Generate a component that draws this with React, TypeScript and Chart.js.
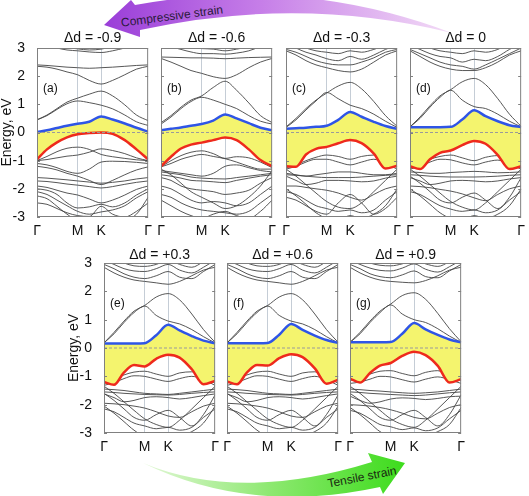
import React, { useEffect, useRef } from 'react';
import { Chart, registerables } from 'chart.js';
Chart.register(...registerables);

// ---- axes -------------------------------------------------------------
const K_POS = [0, 0.09, 0.18, 0.27, 0.366, 0.47, 0.577, 0.68, 0.79, 0.895, 1.0];
const K_TICKS = [0, 0.366, 0.577, 1];
const K_LABELS = ['Γ', 'M', 'K', 'Γ'];
const Y_TICKS = [-3, -2, -1, 0, 1, 2, 3];

// ---- panel (a) Δd = -0.9 ---------------------------------------------
const A_CB = [0.01, 0.08, 0.16, 0.24, 0.31, 0.38, 0.57, 0.46, 0.32, 0.17, 0.03];
const A_VB = [-0.95, -0.6, -0.35, -0.17, -0.06, -0.02, 0.0, -0.05, -0.27, -0.6, -0.95];
const A_UP = [
  [0.45, 0.62, 0.85, 1.08, 1.22, 1.36, 1.47, 1.3, 0.98, 0.62, 0.42],
  [0.45, 0.6, 0.82, 1.02, 1.12, 1.06, 0.97, 0.84, 0.62, 0.38, 0.25],
  [2.35, 2.32, 2.25, 2.15, 2.05, 1.85, 1.72, 1.85, 2.05, 2.25, 2.35],
  [2.4, 2.38, 2.35, 2.32, 2.3, 2.28, 2.3, 2.32, 2.35, 2.38, 2.4],
  [3.2, 3.1, 3.0, 2.93, 2.9, 2.86, 2.84, 2.9, 3.0, 3.1, 3.2],
  [3.3, 3.2, 3.1, 3.02, 2.97, 2.93, 2.96, 3.05, 3.15, 3.25, 3.3],
];
const A_DOWN = [
  [-1.0, -0.85, -0.68, -0.56, -0.52, -0.6, -0.78, -0.86, -0.92, -0.97, -1.0],
  [-1.0, -0.96, -0.9, -0.84, -0.8, -0.7, -0.58, -0.64, -0.75, -0.9, -1.0],
  [-1.1, -1.15, -1.25, -1.38, -1.45, -1.3, -1.05, -1.02, -1.03, -1.06, -1.1],
  [-1.2, -1.25, -1.33, -1.45, -1.55, -1.7, -1.85, -1.7, -1.5, -1.33, -1.22],
  [-1.6, -1.62, -1.65, -1.68, -1.72, -1.76, -1.8, -1.77, -1.72, -1.65, -1.6],
  [-1.72, -1.74, -1.78, -1.83, -1.87, -1.92, -1.97, -1.92, -1.84, -1.77, -1.72],
  [-1.9, -1.95, -2.05, -2.15, -2.22, -2.36, -2.5, -2.4, -2.22, -2.02, -1.9],
  [-2.0, -2.05, -2.2, -2.5, -2.68, -2.64, -2.55, -2.64, -2.5, -2.22, -2.0],
  [-2.1, -2.2, -2.4, -2.6, -2.8, -2.9, -2.82, -2.75, -2.6, -2.32, -2.1],
  [-2.5, -2.55, -2.7, -2.85, -2.95, -2.98, -2.62, -2.9, -3.0, -2.8, -2.5],
  [-2.25, -2.35, -2.62, -2.9, -3.1, -3.1, -3.0, -3.1, -3.1, -2.9, -2.3],
];

// ---- panel (b) Δd = -0.6 ---------------------------------------------
const B_CB = [0.08, 0.13, 0.18, 0.24, 0.3, 0.42, 0.64, 0.5, 0.33, 0.17, 0.08];
const B_VB = [-1.2, -0.86, -0.57, -0.43, -0.36, -0.27, -0.18, -0.27, -0.6, -0.98, -1.2];
const B_UP = [
  [0.35, 0.6, 0.9, 1.15, 1.3, 1.6, 1.82, 1.5, 1.05, 0.6, 0.35],
  [0.3, 0.55, 0.85, 1.1, 1.25, 1.15, 1.0, 0.85, 0.6, 0.4, 0.3],
  [2.63, 2.5, 2.35, 2.2, 2.1, 1.98, 1.92, 2.05, 2.3, 2.5, 2.63],
  [2.68, 2.67, 2.66, 2.65, 2.65, 2.64, 2.62, 2.64, 2.66, 2.67, 2.68],
  [3.2, 3.05, 2.95, 2.86, 2.8, 2.8, 2.78, 2.82, 2.9, 3.05, 3.2],
  [3.3, 3.2, 3.1, 3.02, 2.98, 2.96, 2.9, 2.96, 3.05, 3.2, 3.3],
];
const B_DOWN = [
  [-1.22, -1.0, -0.82, -0.7, -0.65, -0.75, -0.92, -0.86, -0.9, -1.05, -1.25],
  [-1.22, -1.1, -0.95, -0.85, -0.78, -0.85, -0.93, -1.05, -1.2, -1.3, -1.3],
  [-1.35, -1.4, -1.45, -1.5, -1.55, -1.45, -1.2, -1.15, -1.25, -1.35, -1.4],
  [-1.4, -1.45, -1.5, -1.58, -1.62, -1.64, -1.65, -1.6, -1.55, -1.5, -1.45],
  [-1.5, -1.55, -1.62, -1.7, -1.72, -1.75, -1.78, -1.7, -1.62, -1.55, -1.5],
  [-1.3, -1.5, -1.8, -2.1, -2.3, -2.5, -2.7, -2.6, -2.3, -1.9, -1.35],
  [-1.6, -1.7, -1.9, -2.0, -2.05, -2.1, -2.2, -2.15, -2.05, -1.8, -1.6],
  [-1.9, -2.0, -2.2, -2.4, -2.5, -2.45, -2.5, -2.6, -2.5, -2.2, -1.9],
  [-2.2, -2.3, -2.5, -2.65, -2.75, -2.8, -2.85, -2.9, -2.8, -2.5, -2.2],
  [-2.4, -2.6, -2.8, -2.95, -3.05, -2.9, -2.8, -2.95, -3.05, -2.8, -2.4],
];

// ---- panel (c) Δd = -0.3 ---------------------------------------------
const C_CB = [0.13, 0.15, 0.17, 0.2, 0.24, 0.45, 0.73, 0.56, 0.38, 0.23, 0.13];
const C_VB = [-1.2, -1.22, -0.78, -0.58, -0.51, -0.38, -0.27, -0.38, -0.75, -1.28, -1.18];
const C_UP = [
  [0.2, 0.5, 0.85, 1.15, 1.4, 1.65, 1.78, 1.55, 1.1, 0.6, 0.22],
  [0.18, 0.45, 0.8, 1.12, 1.42, 1.2, 0.97, 0.85, 0.65, 0.4, 0.18],
  [2.9, 2.75, 2.55, 2.4, 2.3, 2.2, 2.15, 2.25, 2.5, 2.75, 2.9],
  [2.95, 2.85, 2.7, 2.55, 2.45, 2.4, 2.4, 2.5, 2.65, 2.85, 2.95],
  [3.2, 3.0, 2.85, 2.75, 2.62, 2.55, 2.7, 2.6, 2.75, 2.95, 3.1],
  [3.3, 3.15, 3.0, 2.9, 2.85, 2.8, 2.9, 2.85, 2.95, 3.1, 3.3],
];
const C_DOWN = [
  [-1.25, -1.15, -1.0, -0.88, -0.8, -0.85, -0.95, -0.85, -0.8, -0.95, -1.2],
  [-1.3, -1.2, -1.05, -0.95, -0.95, -1.05, -1.15, -1.05, -0.95, -1.1, -1.3],
  [-1.45, -1.5, -1.55, -1.5, -1.45, -1.4, -1.4, -1.45, -1.5, -1.5, -1.45],
  [-1.5, -1.52, -1.55, -1.58, -1.6, -1.6, -1.6, -1.58, -1.55, -1.52, -1.5],
  [-1.55, -1.7, -1.85, -1.8, -1.7, -1.7, -1.72, -1.75, -1.72, -1.62, -1.55],
  [-1.3, -1.55, -1.85, -2.15, -2.45, -2.65, -2.7, -2.5, -2.1, -1.7, -1.3],
  [-1.9, -1.9, -1.95, -2.0, -2.05, -2.15, -2.3, -2.4, -2.2, -2.0, -1.9],
  [-2.1, -2.2, -2.4, -2.6, -2.7, -2.8, -2.75, -2.85, -2.75, -2.4, -2.1],
  [-2.0, -2.25, -2.55, -2.85, -3.05, -3.1, -2.95, -3.05, -2.9, -2.6, -2.0],
  [-2.3, -2.4, -2.6, -2.8, -2.9, -2.5, -2.2, -2.5, -2.9, -2.7, -2.3],
];

// ---- panel (d) Δd = 0 -------------------------------------------------
const D_CB = [0.19, 0.19, 0.19, 0.19, 0.2, 0.46, 0.79, 0.58, 0.4, 0.26, 0.19];
const D_VB = [-1.2, -1.3, -0.95, -0.72, -0.64, -0.45, -0.3, -0.4, -0.8, -1.3, -1.2];
const D_UP = [
  [0.2, 0.55, 0.95, 1.3, 1.52, 1.8, 1.92, 1.7, 1.2, 0.65, 0.22],
  [0.2, 0.5, 0.9, 1.25, 1.5, 1.15, 0.92, 0.85, 0.65, 0.4, 0.2],
  [2.9, 2.7, 2.5, 2.35, 2.25, 2.2, 2.2, 2.3, 2.5, 2.75, 2.9],
  [2.95, 2.8, 2.65, 2.5, 2.4, 2.35, 2.25, 2.4, 2.6, 2.8, 3.0],
  [3.1, 2.95, 2.8, 2.7, 2.65, 2.5, 2.6, 2.55, 2.7, 2.95, 3.15],
  [3.3, 3.15, 3.0, 2.9, 2.85, 2.8, 2.9, 2.85, 2.95, 3.15, 3.3],
];
const D_DOWN = [
  [-1.25, -1.1, -0.95, -0.85, -0.8, -0.9, -1.0, -0.88, -0.82, -1.0, -1.25],
  [-1.3, -1.2, -1.05, -0.95, -0.97, -1.08, -1.15, -1.05, -0.98, -1.12, -1.3],
  [-1.4, -1.42, -1.45, -1.45, -1.42, -1.4, -1.38, -1.4, -1.43, -1.42, -1.4],
  [-1.5, -1.52, -1.55, -1.57, -1.58, -1.58, -1.58, -1.57, -1.55, -1.52, -1.5],
  [-1.6, -1.72, -1.85, -1.8, -1.72, -1.7, -1.72, -1.75, -1.72, -1.65, -1.6],
  [-1.3, -1.55, -1.85, -2.15, -2.45, -2.65, -2.75, -2.5, -2.1, -1.7, -1.3],
  [-1.9, -1.92, -1.96, -2.02, -2.08, -2.18, -2.32, -2.42, -2.2, -2.0, -1.9],
  [-2.1, -2.2, -2.4, -2.6, -2.72, -2.8, -2.75, -2.85, -2.75, -2.4, -2.1],
  [-2.0, -2.25, -2.55, -2.85, -3.05, -3.1, -2.95, -3.05, -2.9, -2.6, -2.0],
  [-1.55, -1.8, -2.1, -2.4, -2.5, -2.3, -2.15, -2.4, -2.7, -2.3, -1.6],
];

// ---- panels (e), (f) Δd = +0.3, +0.6 ---------------------------------
const E_CB = [0.16, 0.16, 0.16, 0.16, 0.17, 0.45, 0.82, 0.62, 0.42, 0.26, 0.17];
const E_VB = [-1.2, -1.3, -0.86, -0.6, -0.65, -0.38, -0.24, -0.34, -0.75, -1.28, -1.16];
const F_CB = [0.17, 0.17, 0.17, 0.17, 0.18, 0.47, 0.85, 0.64, 0.44, 0.28, 0.18];
const F_VB = [-1.18, -1.28, -0.86, -0.6, -0.62, -0.36, -0.22, -0.32, -0.72, -1.26, -1.12];
const E_UP = [
  [0.18, 0.55, 0.95, 1.3, 1.5, 1.8, 1.92, 1.7, 1.2, 0.65, 0.2],
  [0.18, 0.5, 0.9, 1.25, 1.48, 1.15, 0.95, 0.85, 0.65, 0.4, 0.18],
  [2.85, 2.65, 2.5, 2.4, 2.35, 2.3, 2.25, 2.35, 2.55, 2.75, 2.85],
  [2.95, 2.8, 2.62, 2.5, 2.45, 2.55, 2.7, 2.5, 2.45, 2.7, 2.95],
  [3.1, 2.95, 2.8, 2.72, 2.7, 2.8, 2.95, 2.75, 2.65, 2.85, 3.1],
  [3.3, 3.15, 3.0, 2.9, 2.88, 2.95, 3.1, 2.95, 2.85, 3.05, 3.3],
];
const E_DOWN = [
  [-1.25, -1.1, -0.95, -0.85, -0.82, -0.92, -1.0, -0.88, -0.84, -1.0, -1.25],
  [-1.32, -1.22, -1.08, -0.98, -1.0, -1.1, -1.18, -1.08, -1.0, -1.12, -1.32],
  [-1.45, -1.47, -1.5, -1.55, -1.6, -1.62, -1.64, -1.6, -1.55, -1.5, -1.45],
  [-1.55, -1.57, -1.6, -1.62, -1.64, -1.65, -1.66, -1.64, -1.6, -1.57, -1.55],
  [-1.62, -1.75, -1.9, -1.85, -1.75, -1.72, -1.75, -1.8, -1.75, -1.68, -1.62],
  [-1.35, -1.6, -1.9, -2.2, -2.5, -2.7, -2.8, -2.55, -2.15, -1.75, -1.35],
  [-1.95, -1.97, -2.0, -2.05, -2.12, -2.25, -2.4, -2.45, -2.25, -2.05, -1.95],
  [-2.15, -2.25, -2.45, -2.65, -2.75, -2.85, -2.8, -2.9, -2.8, -2.45, -2.15],
  [-2.05, -2.3, -2.6, -2.9, -3.1, -3.1, -3.0, -3.1, -2.95, -2.65, -2.05],
  [-1.6, -1.85, -2.15, -2.45, -2.55, -2.35, -2.2, -2.45, -2.75, -2.35, -1.65],
];

// ---- panel (g) Δd = +0.9 ---------------------------------------------
const G_CB = [0.2, 0.2, 0.2, 0.2, 0.21, 0.5, 0.88, 0.66, 0.46, 0.3, 0.2];
const G_VB = [-1.08, -1.22, -0.88, -0.62, -0.53, -0.28, -0.13, -0.25, -0.63, -1.22, -1.1];
const G_UP = [
  [0.2, 0.55, 0.95, 1.3, 1.55, 1.85, 1.95, 1.72, 1.22, 0.68, 0.22],
  [0.2, 0.5, 0.9, 1.25, 1.52, 1.2, 1.0, 0.9, 0.68, 0.42, 0.2],
  [2.85, 2.65, 2.5, 2.4, 2.35, 2.32, 2.3, 2.38, 2.55, 2.75, 2.85],
  [2.95, 2.8, 2.62, 2.52, 2.48, 2.58, 2.72, 2.52, 2.48, 2.72, 2.95],
  [3.1, 2.95, 2.82, 2.74, 2.72, 2.82, 2.97, 2.78, 2.68, 2.87, 3.1],
  [3.3, 3.15, 3.0, 2.92, 2.9, 2.97, 3.1, 2.97, 2.88, 3.05, 3.3],
];
const G_DOWN = [
  [-1.15, -1.05, -0.92, -0.82, -0.8, -0.9, -0.98, -0.86, -0.8, -0.98, -1.15],
  [-1.25, -1.2, -1.1, -1.0, -1.02, -1.12, -1.2, -1.1, -1.02, -1.12, -1.25],
  [-1.45, -1.47, -1.5, -1.52, -1.55, -1.58, -1.6, -1.58, -1.55, -1.5, -1.45],
  [-1.55, -1.57, -1.6, -1.62, -1.64, -1.66, -1.68, -1.66, -1.62, -1.58, -1.55],
  [-1.7, -1.85, -1.95, -1.9, -1.8, -1.76, -1.78, -1.82, -1.78, -1.72, -1.7],
  [-1.35, -1.6, -1.9, -2.2, -2.5, -2.7, -2.8, -2.55, -2.15, -1.75, -1.35],
  [-2.0, -2.02, -2.05, -2.1, -2.18, -2.3, -2.45, -2.5, -2.3, -2.1, -2.0],
  [-2.2, -2.3, -2.5, -2.7, -2.78, -2.88, -2.82, -2.92, -2.82, -2.5, -2.2],
  [-2.1, -2.35, -2.65, -2.95, -3.1, -3.1, -3.0, -3.1, -2.95, -2.7, -2.1],
  [-1.6, -1.85, -2.15, -2.45, -2.55, -2.35, -2.2, -2.45, -2.75, -2.35, -1.65],
];

// ---- panel list --------------------------------------------------------
const PANELS = [
  { tag: '(a)', title: 'Δd = -0.9', left: 37, top: 48, h: 169, titleY: 38, cb: A_CB, vb: A_VB, up: A_UP, down: A_DOWN, yLabels: true },
  { tag: '(b)', title: 'Δd = -0.6', left: 161, top: 48, h: 169, titleY: 38, cb: B_CB, vb: B_VB, up: B_UP, down: B_DOWN, yLabels: false },
  { tag: '(c)', title: 'Δd = -0.3', left: 286, top: 48, h: 169, titleY: 38, cb: C_CB, vb: C_VB, up: C_UP, down: C_DOWN, yLabels: false },
  { tag: '(d)', title: 'Δd = 0', left: 410, top: 48, h: 169, titleY: 38, cb: D_CB, vb: D_VB, up: D_UP, down: D_DOWN, yLabels: false },
  { tag: '(e)', title: 'Δd = +0.3', left: 104, top: 263, h: 170, titleY: 255, cb: E_CB, vb: E_VB, up: E_UP, down: E_DOWN, yLabels: true },
  { tag: '(f)', title: 'Δd = +0.6', left: 227, top: 263, h: 170, titleY: 255, cb: F_CB, vb: F_VB, up: E_UP, down: E_DOWN, yLabels: false },
  { tag: '(g)', title: 'Δd = +0.9', left: 350, top: 263, h: 170, titleY: 255, cb: G_CB, vb: G_VB, up: G_UP, down: G_DOWN, yLabels: false },
];

const FONT = '"Liberation Sans", Arial, Helvetica, sans-serif';
const PANEL_W = 113;
const PAD_L = 37;
const PAD_R = 8;
const PAD_B = 22;
const TITLE_LH = 16;

const RED = '#ee2a1c';
const BLUE = '#2f55e6';
const YELLOW = '#f4f46e';
const GRAY = '#444444';

const pts = (arr: number[]) => K_POS.map((x, i) => ({ x, y: arr[i] }));

const framePlugin = {
  id: 'frame',
  afterDraw(chart: any) {
    const { ctx, chartArea: a } = chart;
    const ys = chart.scales.y;
    ctx.save();
    ctx.strokeStyle = '#808080';
    ctx.lineWidth = 1;
    ctx.strokeRect(a.left + 0.5, a.top + 0.5, a.right - a.left - 1, a.bottom - a.top - 1);
    Y_TICKS.forEach((v) => {
      const y = Math.round(ys.getPixelForValue(v)) + 0.5;
      ctx.beginPath();
      ctx.moveTo(a.left, y);
      ctx.lineTo(a.left + 3, y);
      ctx.moveTo(a.right - 3, y);
      ctx.lineTo(a.right, y);
      ctx.stroke();
    });
    const tag = chart.options.plugins.frame?.tag;
    if (tag) {
      ctx.fillStyle = '#111';
      ctx.font = `12px ${FONT}`;
      ctx.textBaseline = 'middle';
      ctx.textAlign = 'left';
      ctx.fillText(tag, a.left + 6, ys.getPixelForValue(1.55));
    }
    ctx.restore();
  },
};

function Panel({ p }: { p: any }) {
  const ref = useRef<HTMLCanvasElement>(null);
  const topGap = p.top - (p.titleY - TITLE_LH / 2);
  const w = PAD_L + PANEL_W + PAD_R;
  const h = topGap + p.h + PAD_B;
  const canvasLeft = p.left - PAD_L;
  const canvasTop = p.titleY - TITLE_LH / 2;

  useEffect(() => {
    const gray = [...p.up, ...p.down].map((b: number[]) => ({
      data: pts(b),
      borderColor: GRAY,
      borderWidth: 0.9,
      pointRadius: 0,
      fill: false,
      cubicInterpolationMode: 'monotone',
    }));
    const chart = new Chart(ref.current as HTMLCanvasElement, {
      type: 'line',
      data: {
        datasets: [
          {
            data: [{ x: 0, y: 0 }, { x: 1, y: 0 }],
            borderColor: '#9a9a9a',
            borderWidth: 1,
            borderDash: [3, 2],
            pointRadius: 0,
            fill: false,
          },
          {
            data: pts(p.vb),
            borderColor: RED,
            borderWidth: 2.5,
            pointRadius: 0,
            fill: false,
            cubicInterpolationMode: 'monotone',
          },
          {
            data: pts(p.cb),
            borderColor: BLUE,
            borderWidth: 2.5,
            pointRadius: 0,
            fill: '-1',
            backgroundColor: YELLOW,
            cubicInterpolationMode: 'monotone',
          },
          ...gray,
        ] as any,
      },
      options: {
        responsive: false,
        animation: false,
        events: [],
        layout: { padding: { left: 0, right: PAD_R, top: 0, bottom: 0 } },
        plugins: {
          legend: { display: false },
          tooltip: { enabled: false },
          title: {
            display: true,
            fullSize: false,
            text: p.title,
            color: '#111',
            font: { size: 14, family: FONT, weight: 'normal', lineHeight: TITLE_LH / 14 },
            padding: { top: 0, bottom: topGap - TITLE_LH },
          },
          frame: { tag: p.tag },
        } as any,
        scales: {
          x: {
            type: 'linear',
            min: 0,
            max: 1,
            afterBuildTicks: (s: any) => {
              s.ticks = K_TICKS.map((v) => ({ value: v }));
            },
            afterFit: (s: any) => {
              s.height = PAD_B;
            },
            ticks: {
              autoSkip: false,
              maxRotation: 0,
              padding: 6,
              color: '#111',
              font: { size: 14, family: FONT },
              callback: (_v: any, i: number) => K_LABELS[i],
            },
            grid: {
              drawTicks: false,
              lineWidth: 1,
              color: (c: any) => (c.index === 1 || c.index === 2 ? '#c5cdd6' : 'rgba(0,0,0,0)'),
            },
            border: { display: false },
          },
          y: {
            type: 'linear',
            min: -3,
            max: 3,
            afterBuildTicks: (s: any) => {
              s.ticks = Y_TICKS.map((v) => ({ value: v }));
            },
            afterFit: (s: any) => {
              s.width = PAD_L;
            },
            ticks: {
              display: p.yLabels,
              padding: 4,
              color: '#111',
              font: { size: 14, family: FONT },
              callback: (v: any) => String(v),
            },
            grid: { display: false },
            border: { display: false },
            title: {
              display: p.yLabels,
              text: 'Energy, eV',
              color: '#111',
              font: { size: 14, family: FONT, lineHeight: 1 },
              padding: 0,
            },
          },
        },
      } as any,
      plugins: [framePlugin],
    });
    return () => chart.destroy();
  }, []);

  return (
    <canvas
      ref={ref}
      width={w}
      height={h}
      style={{ position: 'absolute', left: canvasLeft, top: canvasTop, width: w, height: h }}
    />
  );
}

function Arrows() {
  return (
    <svg width={529} height={496} style={{ position: 'absolute', left: 0, top: 0 }}>
      <defs>
        <linearGradient id="purp" x1="0" y1="0" x2="1" y2="0">
          <stop offset="0" stopColor="#9a3ed8" />
          <stop offset="0.45" stopColor="#c67ee8" />
          <stop offset="1" stopColor="#f3dcf6" />
        </linearGradient>
        <linearGradient id="grn" x1="0" y1="0" x2="1" y2="0">
          <stop offset="0" stopColor="#e2f7d6" />
          <stop offset="0.5" stopColor="#8be86e" />
          <stop offset="1" stopColor="#3ddc1c" />
        </linearGradient>
      </defs>
      <path
        d="M 452 33 Q 300 -25 135 5 L 131 0 L 104 25 L 140 37 L 140 30 Q 300 -5 452 33 Z"
        fill="url(#purp)"
      />
      <text
        x={172}
        y={20}
        fontSize={12}
        fontFamily={FONT}
        fill="#2a1a3a"
        textAnchor="middle"
        transform="rotate(-7.5 172 16)"
      >
        Compressive strain
      </text>
      <path
        d="M 143 463 Q 240 503 372 462 L 368 453 L 405 463 L 383 494 L 380 487 Q 250 515 143 463 Z"
        fill="url(#grn)"
      />
      <text
        x={362}
        y={481}
        fontSize={12}
        fontFamily={FONT}
        fill="#1a2a12"
        textAnchor="middle"
        transform="rotate(-11 362 477)"
      >
        Tensile strain
      </text>
    </svg>
  );
}

export default function App() {
  return (
    <div style={{ position: 'absolute', left: 0, top: 0, width: 529, height: 496, background: '#fff', overflow: 'hidden' }}>
      <Arrows />
      {PANELS.map((p) => (
        <Panel key={p.tag} p={p} />
      ))}
    </div>
  );
}
